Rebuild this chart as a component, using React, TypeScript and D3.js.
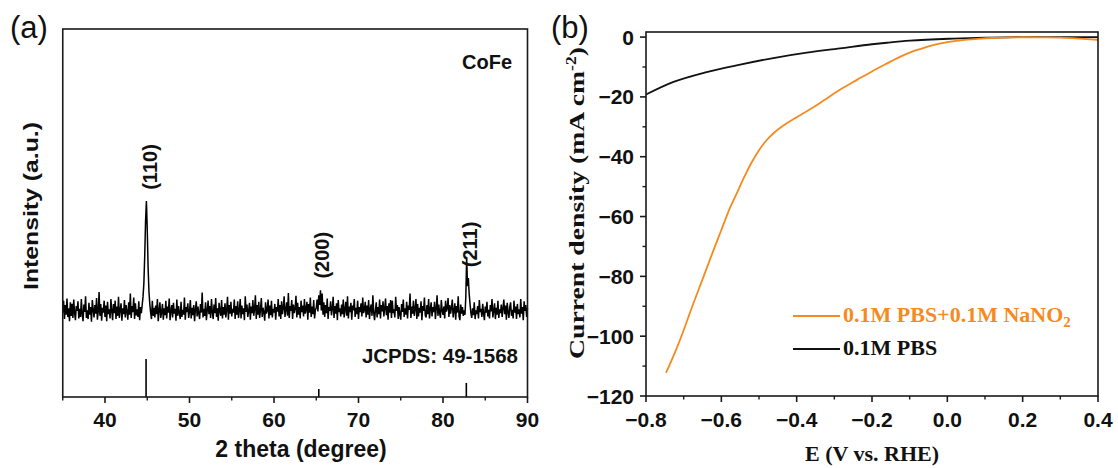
import React from 'react';
import * as d3 from 'd3';

// ---------- Panel (a): XRD data ----------
const xrdStart = 35;
const xrdStep = 0.1;
const xrdIntensity = [
  96,118,84,110,92,122,88,104,80,115,
  90,112,86,120,95,82,108,99,117,85,
  103,88,121,93,80,111,97,126,86,100,
  84,114,92,106,79,119,101,87,110,94,
  123,83,98,134,90,112,81,105,96,118,
  88,109,80,116,93,102,85,121,99,82,
  112,95,118,84,107,90,125,86,101,113,
  81,104,93,119,87,110,98,83,115,92,
  131,86,108,97,124,84,113,91,102,88,
  117,82,106,95,110,125,150,200,265,302,
  250,180,135,112,96,84,118,90,105,87,
  109,93,121,80,100,115,86,97,112,83,
  104,91,118,85,107,96,122,82,99,110,
  87,114,94,103,81,120,90,108,95,84,
  116,88,101,92,124,83,106,97,113,86,
  98,119,85,105,91,110,80,102,117,89,
  107,94,84,112,96,133,87,103,90,115,
  82,100,118,93,108,86,121,97,84,111,
  95,123,88,104,81,114,99,90,119,85,
  106,92,113,87,101,125,83,110,94,116,
  89,103,96,120,84,108,92,117,86,100,
  121,85,109,93,104,82,126,97,111,88,
  99,114,83,107,95,119,90,102,128,84,
  110,92,116,86,101,123,88,105,97,81,
  115,94,100,120,85,109,91,118,87,103,
  96,112,83,106,98,121,89,110,84,117,
  93,105,126,88,101,115,90,132,86,108,
  99,119,84,111,95,103,127,87,114,92,
  106,85,118,97,109,89,121,94,102,116,
  83,112,96,124,88,107,93,119,85,101,
  105,120,98,128,110,137,100,131,92,115,
  88,110,95,122,84,106,99,117,91,103,
  125,86,108,94,113,82,119,97,104,89,
  111,93,120,87,102,116,90,126,85,107,
  97,114,83,109,100,121,88,105,93,118,
  84,106,97,113,89,124,95,101,116,87,
  109,92,119,84,103,111,90,128,96,82,
  100,115,87,106,93,120,85,110,98,117,
  89,104,122,91,108,83,113,96,119,86,
  118,95,102,87,125,99,110,84,106,93,
  83,112,97,120,88,104,92,116,85,109,
  101,131,86,107,94,118,90,103,121,84,
  112,89,105,96,117,82,108,99,124,91,
  87,110,93,121,85,102,115,89,106,97,
  116,84,103,128,90,111,95,86,119,100,
  92,107,85,118,98,104,123,88,110,94,
  105,120,87,99,113,83,108,96,126,89,
  82,111,94,106,90,100,92,125,198,145,
  160,130,112,95,86,104,91,115,84,100,
  93,108,85,119,97,103,88,112,94,82,
  107,96,116,89,101,85,110,98,121,87,
  99,113,84,105,92,118,86,102,95,111,
  88,104,120,93,109,83,114,97,86,106,
  115,90,101,85,118,96,107,84,112,93,
  102,87,121,94,106,82,117,99,110,88,
  104,
];
const stickPositions = [44.86, 65.3, 82.76];
const stickHeights = [100, 21, 37];
const peakLabels = ['(110)', '(200)', '(211)'];
const peakLabelPositions = [44.95, 65.3, 82.8];
const peakLabelHeights = [365, 202, 222];
const thetaTicks = [40, 50, 60, 70, 80, 90];
const thetaMinorTicks = [35, 45, 55, 65, 75, 85];

// ---------- Panel (b): LSV data ----------
const nitriteE = [-0.747, -0.72, -0.70, -0.68, -0.65, -0.62, -0.60, -0.58, -0.56, -0.54, -0.52, -0.50, -0.48, -0.46, -0.44, -0.42, -0.40, -0.38, -0.36, -0.34, -0.32, -0.30, -0.28, -0.26, -0.24, -0.22, -0.20, -0.18, -0.16, -0.14, -0.12, -0.10, -0.08, -0.06, -0.04, -0.02, 0.0, 0.04, 0.08, 0.12, 0.16, 0.20, 0.25, 0.30, 0.35, 0.40];
const nitriteJ = [-112.3, -104.5, -98, -91, -81, -71, -64.5, -58, -52.5, -47, -42, -37.8, -34.5, -32, -30, -28.3, -26.8, -25.3, -23.8, -22.2, -20.5, -18.8, -17.2, -15.8, -14.3, -12.9, -11.5, -10.1, -8.8, -7.5, -6.3, -5.2, -4.3, -3.5, -2.8, -2.2, -1.7, -1.0, -0.6, -0.3, -0.15, -0.05, -0.1, -0.2, -0.5, -0.9];
const pbsE = [-0.8, -0.727, -0.639, -0.55, -0.462, -0.373, -0.285, -0.2, -0.161, -0.1, 0.015, 0.1, 0.2, 0.3, 0.4];
const pbsJ = [-19.2, -15.0, -11.7, -9.2, -7.0, -5.2, -3.8, -2.4, -1.9, -1.2, -0.5, -0.2, 0, 0, 0];
const eTicks = [-0.8, -0.6, -0.4, -0.2, 0.0, 0.2, 0.4];
const eMinorTicks = [-0.7, -0.5, -0.3, -0.1, 0.1, 0.3];
const jTicks = [-120, -100, -80, -60, -40, -20, 0];
const jMinorTicks = [-110, -90, -70, -50, -30, -10];
const legendLabels = ['0.1M PBS+0.1M NaNO', '0.1M PBS'];

const ORANGE = '#F58A1F';
const SANS = '"Liberation Sans", Arial, Helvetica, sans-serif';
const SERIF = '"Liberation Serif", "Times New Roman", Times, serif';
const AXIS = '#1a1a1a';

export default function App() {
  // Panel (a) scales
  const xA = d3.scaleLinear().domain([35, 90]).range([62.75, 527.5]);
  const yA = d3.scaleLinear().domain([-60, 620]).range([397, 29]);
  const yStick = d3.scaleLinear().domain([0, 100]).range([397, 359]);
  const xrdPts: [number, number][] = xrdIntensity.map((v, i) => [xrdStart + i * xrdStep, v]);
  const xrdLine = d3.line<[number, number]>().x(d => xA(d[0])).y(d => yA(d[1]))(xrdPts) || '';

  // Panel (b) scales
  const xB = d3.scaleLinear().domain([-0.8, 0.4]).range([646, 1098]);
  const yB = d3.scaleLinear().domain([-120, 1.7]).range([396, 32]);
  const lsv = d3.line<[number, number]>().x(d => xB(d[0])).y(d => yB(d[1])).curve(d3.curveMonotoneX);
  const nitritePath = lsv(nitriteE.map((e, i) => [e, nitriteJ[i]] as [number, number])) || '';
  const pbsPath = lsv(pbsE.map((e, i) => [e, pbsJ[i]] as [number, number])) || '';
  const fmtE = d3.format('.1f');
  const fmtJ = d3.format('d');

  const aL = xA.range()[0], aR = xA.range()[1], aT = yA.range()[1], aB = yA.range()[0];
  const bL = xB.range()[0], bR = xB.range()[1], bT = yB.range()[1], bB = yB.range()[0];

  return (
    <svg width={1118} height={468} viewBox="0 0 1118 468"
      style={{ position: 'absolute', left: 0, top: 0, background: '#fff' }}>
      <rect x={0} y={0} width={1118} height={468} fill="#fff" />

      {/* ===== Panel (a) ===== */}
      <text x={10} y={38} fontFamily={SANS} fontSize={31} fill="#111">(a)</text>
      <path d={xrdLine} fill="none" stroke="#000" strokeWidth={1.5} strokeLinejoin="miter" />
      {stickPositions.map((p, i) => (
        <line key={'s' + i} x1={xA(p)} x2={xA(p)} y1={yStick(0)} y2={yStick(stickHeights[i])}
          stroke="#000" strokeWidth={1.6} />
      ))}
      {peakLabels.map((t, i) => {
        const x = xA(peakLabelPositions[i]) + 3;
        const y = yA(peakLabelHeights[i]);
        return (
          <text key={'pl' + i} x={0} y={0} transform={`translate(${x},${y}) rotate(-90)`}
            textAnchor="middle" dy="0.35em" fontFamily={SANS} fontWeight="bold" fontSize={20} fill="#111">{t}</text>
        );
      })}
      <text x={512} y={69} textAnchor="end" fontFamily={SANS} fontWeight="bold" fontSize={20} fill="#111">CoFe</text>
      <text x={518} y={363} textAnchor="end" fontFamily={SANS} fontWeight="bold" fontSize={20.5} fill="#111">JCPDS: 49-1568</text>
      <rect x={aL} y={aT} width={aR - aL} height={aB - aT} fill="none" stroke={AXIS} strokeWidth={1.6} />
      {thetaTicks.map(t => (
        <g key={'tt' + t}>
          <line x1={xA(t)} x2={xA(t)} y1={aB} y2={aB + 6} stroke={AXIS} strokeWidth={1.6} />
          <text x={xA(t)} y={427} textAnchor="middle" fontFamily={SANS} fontWeight="bold" fontSize={21} fill="#111">{t}</text>
        </g>
      ))}
      {thetaMinorTicks.map(t => (
        <line key={'tm' + t} x1={xA(t)} x2={xA(t)} y1={aB} y2={aB + 3.5} stroke={AXIS} strokeWidth={1.4} />
      ))}
      <text x={301} y={457} textAnchor="middle" fontFamily={SANS} fontWeight="bold" fontSize={23} fill="#111">2 theta (degree)</text>
      <text x={0} y={0} transform="translate(38,206) rotate(-90)" textAnchor="middle"
        fontFamily={SANS} fontWeight="bold" fontSize={20} fill="#111"
        textLength={168} lengthAdjust="spacingAndGlyphs">Intensity (a.u.)</text>

      {/* ===== Panel (b) ===== */}
      <text x={551} y={38} fontFamily={SANS} fontSize={31} fill="#111">(b)</text>
      <path d={pbsPath} fill="none" stroke="#111" strokeWidth={1.8} />
      <path d={nitritePath} fill="none" stroke={ORANGE} strokeWidth={1.8} />
      <rect x={bL} y={bT} width={bR - bL} height={bB - bT} fill="none" stroke={AXIS} strokeWidth={1.6} />
      {jTicks.map(t => (
        <g key={'jt' + t}>
          <line x1={bL - 6} x2={bL} y1={yB(t)} y2={yB(t)} stroke={AXIS} strokeWidth={1.6} />
          <text x={634} y={yB(t)} dy="0.36em" textAnchor="end" fontFamily={SANS} fontWeight="bold" fontSize={21} fill="#111">{fmtJ(t)}</text>
        </g>
      ))}
      {jMinorTicks.map(t => (
        <line key={'jm' + t} x1={bL - 3.5} x2={bL} y1={yB(t)} y2={yB(t)} stroke={AXIS} strokeWidth={1.4} />
      ))}
      {eTicks.map(t => (
        <g key={'et' + t}>
          <line x1={xB(t)} x2={xB(t)} y1={bB} y2={bB + 6} stroke={AXIS} strokeWidth={1.6} />
          <text x={xB(t)} y={427} textAnchor="middle" fontFamily={SANS} fontWeight="bold" fontSize={21} fill="#111">{fmtE(t)}</text>
        </g>
      ))}
      {eMinorTicks.map(t => (
        <line key={'em' + t} x1={xB(t)} x2={xB(t)} y1={bB} y2={bB + 3.5} stroke={AXIS} strokeWidth={1.4} />
      ))}
      <text x={872} y={461} textAnchor="middle" fontFamily={SERIF} fontWeight="bold" fontSize={22} fill="#111">E (V vs. RHE)</text>
      <text x={0} y={0} transform="translate(584,203) rotate(-90)" textAnchor="middle"
        fontFamily={SERIF} fontWeight="bold" fontSize={22} fill="#111"
        textLength={312} lengthAdjust="spacingAndGlyphs">
        Current density (mA cm<tspan dy={-8} fontSize={14}>-2</tspan><tspan dy={8}>)</tspan>
      </text>

      {/* Legend */}
      <line x1={793} x2={840} y1={316} y2={316} stroke={ORANGE} strokeWidth={1.8} />
      <text x={843} y={322} fontFamily={SERIF} fontWeight="bold" fontSize={22} fill={ORANGE}>
        {legendLabels[0]}<tspan dy={5} fontSize={15}>2</tspan>
      </text>
      <line x1={793} x2={840} y1={349} y2={349} stroke="#111" strokeWidth={1.8} />
      <text x={843} y={355} fontFamily={SERIF} fontWeight="bold" fontSize={22} fill="#111">{legendLabels[1]}</text>
    </svg>
  );
}
